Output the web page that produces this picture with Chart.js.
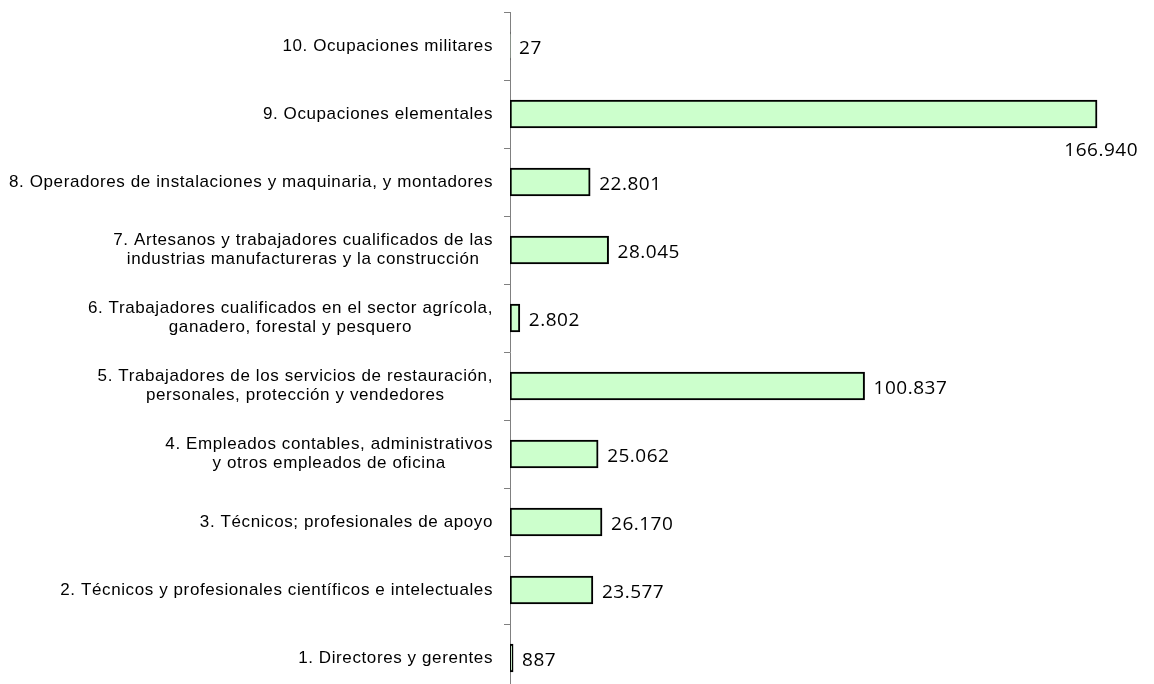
<!DOCTYPE html>
<html>
<head>
<meta charset="utf-8">
<script src="https://cdn.jsdelivr.net/npm/chart.js@4"></script>
<style>
  html, body { margin: 0; padding: 0; background: #fff; overflow: hidden; }
  #wrap { width: 1154px; height: 700px; }
</style>
</head>
<body>
<div id="wrap"><canvas id="myChart" width="1154" height="700"></canvas></div>
<script>
// categories (top to bottom, as in the picture)
var ocupaciones = [
  ['10. Ocupaciones militares'],
  ['9. Ocupaciones elementales'],
  ['8. Operadores de instalaciones y maquinaria, y montadores'],
  ['7. Artesanos y trabajadores cualificados de las', 'industrias manufactureras y la construcción'],
  ['6. Trabajadores cualificados en el sector agrícola,', 'ganadero, forestal y pesquero'],
  ['5. Trabajadores de los servicios de restauración,', 'personales, protección y vendedores'],
  ['4. Empleados contables, administrativos', 'y otros empleados de oficina'],
  ['3. Técnicos; profesionales de apoyo'],
  ['2. Técnicos y profesionales científicos e intelectuales'],
  ['1. Directores y gerentes']
];
var valores = [27, 166940, 22801, 28045, 2802, 100837, 25062, 26170, 23577, 887];

// 166940 -> "166.940"
function fmt(n) {
  return String(n).replace(/\B(?=(\d{3})+(?!\d))/g, '.');
}

// etiquetas del eje: bloque alineado a la derecha, lineas centradas
var etiquetasPlugin = {
  id: 'etiquetas',
  afterDraw: function(chart) {
    var c = chart.ctx;
    var ys = chart.scales.y;
    var right = chart.chartArea.left - 17;
    c.save();
    c.font = '17px "Liberation Sans", Arial, sans-serif';
    c.letterSpacing = '0.6px';
    c.fillStyle = '#000';
    c.textAlign = 'center';
    c.textBaseline = 'middle';
    var lh = 19;
    for (var i = 0; i < ocupaciones.length; i++) {
      var lines = ocupaciones[i];
      var w = 0;
      for (var j = 0; j < lines.length; j++) {
        w = Math.max(w, c.measureText(lines[j]).width);
      }
      var cx = right - w / 2;
      var y0 = ys.getPixelForTick(i) - (lines.length - 1) * lh / 2;
      for (var j = 0; j < lines.length; j++) {
        c.fillText(lines[j], cx, y0 + j * lh);
      }
    }
    c.restore();
  }
};

// valores al final de cada barra
var valoresPlugin = {
  id: 'valores',
  afterDatasetsDraw: function(chart) {
    var c = chart.ctx;
    var meta = chart.getDatasetMeta(0);
    c.save();
    c.font = '19px "Open Sans", sans-serif';
    c.letterSpacing = '0.5px';
    c.fillStyle = '#000';
    c.textBaseline = 'middle';
    meta.data.forEach(function(bar, i) {
      var txt = fmt(valores[i]);
      var w = c.measureText(txt).width;
      if (bar.x + 8 + w > chart.chartArea.right) {
        c.textAlign = 'right';
        c.fillText(txt, bar.x + 41, bar.y + 37);
      } else {
        c.textAlign = 'left';
        c.fillText(txt, bar.x + 9, bar.y + 3);
      }
    });
    c.restore();
  }
};

var ctx = document.getElementById('myChart').getContext('2d');
var myChart = new Chart(ctx, {
  type: 'bar',
  data: {
    labels: ocupaciones,
    datasets: [{
      data: valores,
      backgroundColor: '#CCFFCC',
      borderColor: '#000000',
      borderWidth: 2,
      borderSkipped: false,
      barThickness: 28
    }]
  },
  options: {
    indexAxis: 'y',
    responsive: false,
    animation: false,
    layout: { padding: { top: 12, bottom: 8, right: 4, left: 0 } },
    plugins: {
      legend: { display: false },
      tooltip: { enabled: false }
    },
    scales: {
      x: {
        display: false,
        min: 0,
        max: 182000
      },
      y: {
        afterFit: function(s) { s.width = 510; },
        ticks: { display: false },
        grid: {
          offset: true,
          drawOnChartArea: false,
          drawTicks: true,
          tickLength: 6,
          tickColor: '#808080'
        },
        border: { display: true, color: '#808080', width: 1 }
      }
    }
  },
  plugins: [etiquetasPlugin, valoresPlugin]
});
</script>
</body>
</html>
